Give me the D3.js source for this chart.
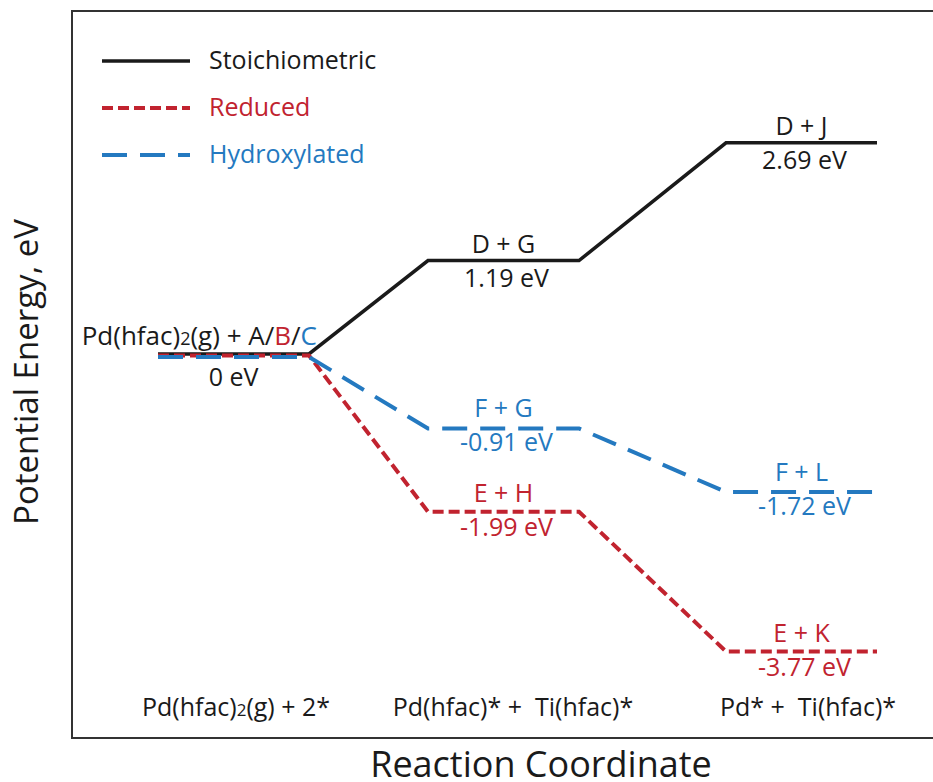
<!DOCTYPE html>
<html>
<head>
<meta charset="utf-8">
<script src="https://cdn.jsdelivr.net/npm/d3@7"></script>
<style>
  body { margin: 0; background: #fff; }
  text { font-family: "Open Sans", sans-serif; white-space: pre; }
</style>
</head>
<body>
<div id="chart"></div>
<script>
// steps along the reaction coordinate
var steps = [0, 1, 2];
var stepLabels = ["Pd(hfac)2(g) + 2*", "Pd(hfac)* +  Ti(hfac)*", "Pd* +  Ti(hfac)*"];

// energies (eV) per pathway
var stoichValues = [0, 1.19, 2.69];
var reducedValues = [0, -1.99, -3.77];
var hydroxValues = [0, -0.91, -1.72];

// state names at each level
var stoichStates = ["", "D + G", "D + J"];
var reducedStates = ["", "E + H", "E + K"];
var hydroxStates = ["", "F + G", "F + L"];

var seriesNames = ["Stoichiometric", "Reduced", "Hydroxylated"];

var svgWidth = 933;
var svgHeight = 782;

var svg = d3.select("#chart")
  .append("svg")
  .attr("width", svgWidth)
  .attr("height", svgHeight);

// frame (right edge runs off the picture)
svg.append("rect")
  .attr("x", 72)
  .attr("y", 11)
  .attr("width", 880)
  .attr("height", 727)
  .attr("fill", "none")
  .attr("stroke", "#333")
  .attr("stroke-width", 2);

// scales
var xScale = d3.scaleLinear()
  .domain([0, 1, 2])
  .range([158, 428, 726]);
var levelWidth = 151;

var yScale = d3.scaleLinear()
  .domain([0, 1])
  .range([354, 275.5]);

var series = [
  { name: seriesNames[0], values: stoichValues, states: stoichStates, color: "#1a1a1a", dash: null, width: 3.5, offset: 0 },
  { name: seriesNames[1], values: reducedValues, states: reducedStates, color: "#c1232f", dash: "11,5", width: 4, offset: 1.5 },
  { name: seriesNames[2], values: hydroxValues, states: hydroxStates, color: "#2479c0", dash: "25,13", width: 4, offset: 3 }
];

var line = d3.line()
  .x(d => d[0])
  .y(d => d[1]);

// each pathway: flat level then connector to next level
series.forEach(function(s) {
  var pts = [];
  steps.forEach(function(i) {
    var y = yScale(s.values[i]) + s.offset;
    pts.push([xScale(i), y]);
    pts.push([xScale(i) + levelWidth, y]);
  });
  svg.append("path")
    .attr("d", line(pts))
    .attr("fill", "none")
    .attr("stroke", s.color)
    .attr("stroke-width", s.width)
    .attr("stroke-dasharray", s.dash)
    .attr("stroke-linejoin", "miter");
});

// level labels
var fs = 25;
series.forEach(function(s) {
  steps.forEach(function(i) {
    if (i === 0) return;
    var cx = xScale(i) + levelWidth / 2;
    var y = yScale(s.values[i]);
    svg.append("text")
      .attr("x", cx)
      .attr("y", y - 8)
      .attr("text-anchor", "middle")
      .attr("font-size", fs)
      .attr("fill", s.color)
      .text(s.states[i]);
    svg.append("text")
      .attr("x", cx + 3)
      .attr("y", y + 26)
      .attr("text-anchor", "middle")
      .attr("font-size", fs)
      .attr("fill", s.color)
      .text(s.values[i].toFixed(2) + " eV");
  });
});

// starting level label
var startLabel = svg.append("text")
  .attr("x", xScale(0) + levelWidth + 8)
  .attr("y", yScale(0) - 9)
  .attr("text-anchor", "end")
  .attr("font-size", 26)
  .attr("fill", "#1a1a1a");
startLabel.append("tspan").text("Pd(hfac)");
startLabel.append("tspan").attr("font-size", 18).text("2");
startLabel.append("tspan").text("(g) + A/");
startLabel.append("tspan").attr("fill", series[1].color).text("B");
startLabel.append("tspan").text("/");
startLabel.append("tspan").attr("fill", series[2].color).text("C");

svg.append("text")
  .attr("x", xScale(0) + levelWidth / 2)
  .attr("y", yScale(0) + 32)
  .attr("text-anchor", "middle")
  .attr("font-size", fs)
  .attr("fill", "#1a1a1a")
  .text("0 eV");

// step labels along the bottom
var stepCenters = [236, 513, 808];
steps.forEach(function(i) {
  var t = svg.append("text")
    .attr("x", stepCenters[i])
    .attr("y", 716)
    .attr("text-anchor", "middle")
    .attr("font-size", 25)
    .attr("fill", "#1a1a1a");
  var parts = stepLabels[i].split("2(g)");
  if (parts.length > 1) {
    t.append("tspan").text(parts[0]);
    t.append("tspan").attr("font-size", 17).text("2");
    t.append("tspan").text("(g)" + parts[1]);
  } else {
    t.text(stepLabels[i]);
  }
});

// legend
var legend = svg.append("g");
series.forEach(function(s, i) {
  var ly = 61 + i * 47;
  legend.append("line")
    .attr("x1", 102)
    .attr("x2", 190)
    .attr("y1", ly)
    .attr("y2", ly)
    .attr("stroke", s.color)
    .attr("stroke-width", s.width)
    .attr("stroke-dasharray", s.dash);
  legend.append("text")
    .attr("x", 209)
    .attr("y", ly + 8)
    .attr("font-size", 25)
    .attr("fill", s.color)
    .text(s.name);
});

// axis titles
svg.append("text")
  .attr("transform", "translate(38, 372) rotate(-90)")
  .attr("text-anchor", "middle")
  .attr("font-size", 33)
  .attr("fill", "#1a1a1a")
  .text("Potential Energy, eV");

svg.append("text")
  .attr("x", 541)
  .attr("y", 777)
  .attr("text-anchor", "middle")
  .attr("font-size", 36)
  .attr("fill", "#1a1a1a")
  .text("Reaction Coordinate");
</script>
</body>
</html>
